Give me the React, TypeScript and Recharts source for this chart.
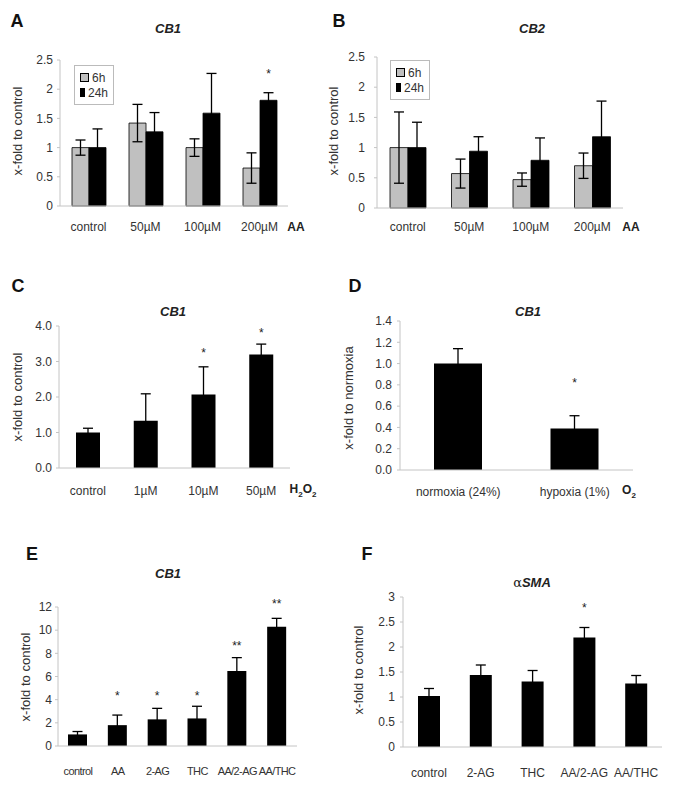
import { BarChart, Bar, XAxis, YAxis, ErrorBar, LabelList, Legend } from "recharts";
import type { CSSProperties, ReactNode } from "react";

const FONT = '"Liberation Sans", Arial, Helvetica, sans-serif';

const seriesNames = ["6h", "24h"];

// A: CB1, AA doses, 6h / 24h
const aaDoses = ["control", "50µM", "100µM", "200µM"];
const cb1AA6h = [1.0, 1.42, 1.0, 0.65];
const cb1AA6hErr = [0.13, 0.32, 0.15, 0.26];
const cb1AA24h = [1.0, 1.27, 1.59, 1.81];
const cb1AA24hErr = [0.32, 0.33, 0.68, 0.13];
const cb1AA24hStar = ["", "", "", "*"];
const cb1AA24hStarAt = [0, 0, 0, 2.31];

// B: CB2, AA doses, 6h / 24h
const cb2AA6h = [1.0, 0.57, 0.47, 0.7];
const cb2AA6hErr = [0.59, 0.24, 0.11, 0.21];
const cb2AA24h = [1.0, 0.94, 0.79, 1.18];
const cb2AA24hErr = [0.42, 0.24, 0.37, 0.59];

// C: CB1, H2O2 doses
const h2o2Doses = ["control", "1µM", "10µM", "50µM"];
const cb1H2O2 = [1.0, 1.33, 2.07, 3.2];
const cb1H2O2Err = [0.12, 0.76, 0.78, 0.29];
const cb1H2O2Star = ["", "", "*", "*"];
const cb1H2O2StarAt = [0, 0, 3.32, 3.89];

// D: CB1, oxygen
const o2Conditions = ["normoxia (24%)", "hypoxia (1%)"];
const cb1O2 = [1.0, 0.39];
const cb1O2Err = [0.14, 0.12];
const cb1O2Star = ["", "*"];
const cb1O2StarAt = [0, 0.85];

// E: CB1, treatments
const eTreatments = ["control", "AA", "2-AG", "THC", "AA/2-AG", "AA/THC"];
const cb1Treat = [1.0, 1.8, 2.3, 2.38, 6.48, 10.3];
const cb1TreatErr = [0.25, 0.87, 0.95, 1.05, 1.15, 0.72];
const cb1TreatStar = ["", "*", "*", "*", "**", "**"];
const cb1TreatStarAt = [0, 4.55, 4.55, 4.55, 8.9, 12.55];

// F: alphaSMA, treatments
const fTreatments = ["control", "2-AG", "THC", "AA/2-AG", "AA/THC"];
const smaTreat = [1.02, 1.44, 1.31, 2.19, 1.27];
const smaTreatErr = [0.15, 0.2, 0.22, 0.2, 0.16];
const smaTreatStar = ["", "", "", "*", ""];
const smaTreatStarAt = [0, 0, 0, 2.85, 0];

const ticksAB = [0, 0.5, 1, 1.5, 2, 2.5];
const ticksC = [0, 1, 2, 3, 4];
const ticksD = [0, 0.2, 0.4, 0.6, 0.8, 1.0, 1.2, 1.4];
const ticksE = [0, 2, 4, 6, 8, 10, 12];
const ticksF = [0, 0.5, 1, 1.5, 2, 2.5, 3];

const rowsA = aaDoses.map((name, i) => ({
  name,
  h6: cb1AA6h[i],
  h6Err: cb1AA6hErr[i],
  h24: cb1AA24h[i],
  h24Err: cb1AA24hErr[i],
  star: cb1AA24hStar[i],
}));
const rowsB = aaDoses.map((name, i) => ({
  name,
  h6: cb2AA6h[i],
  h6Err: cb2AA6hErr[i],
  h24: cb2AA24h[i],
  h24Err: cb2AA24hErr[i],
}));
const single = (names: string[], v: number[], e: number[], s: string[]) =>
  names.map((name, i) => ({ name, value: v[i], err: e[i], star: s[i] }));
const rowsC = single(h2o2Doses, cb1H2O2, cb1H2O2Err, cb1H2O2Star);
const rowsD = single(o2Conditions, cb1O2, cb1O2Err, cb1O2Star);
const rowsE = single(eTreatments, cb1Treat, cb1TreatErr, cb1TreatStar);
const rowsF = single(fTreatments, smaTreat, smaTreatErr, smaTreatStar);

const AXIS = "#c4c4c4";
const TXT = "#333";
const Y_W = 30;
const X_H = 40;

type Box = { left: number; top: number; width: number; height: number };
type Plot = { left: number; right: number; top: number; bottom: number };

function frame(box: Box, plot: Plot) {
  return {
    left: plot.left - box.left - Y_W,
    right: box.left + box.width - plot.right,
    top: plot.top - box.top,
    bottom: box.top + box.height - plot.bottom - X_H,
  };
}

// star marks: height (px per unit from bar geometry)
function starContent(values: number[], starAt: number[]) {
  // eslint-disable-next-line @typescript-eslint/no-explicit-any
  return (props: any) => {
    const { index, value } = props;
    if (!value || index == null) return null;
    const vb = props.viewBox ?? props;
    const { x, y, width, height } = vb;
    const perUnit = height / values[index];
    const cy = y + height - starAt[index] * perUnit;
    return (
      <text x={x + width / 2} y={cy + 7} textAnchor="middle" fontSize={12} fill="#222" fontFamily={FONT}>
        {value}
      </text>
    );
  };
}

// eslint-disable-next-line @typescript-eslint/no-explicit-any
function SeriesLegend({ payload }: any) {
  const items = [...(payload ?? [])].sort(
    (a: { value: string }, b: { value: string }) => seriesNames.indexOf(a.value) - seriesNames.indexOf(b.value),
  );
  return (
    <div
      style={{
        border: "1px solid #bbb",
        background: "#fff",
        padding: "4px 5px",
        fontSize: 12,
        fontFamily: FONT,
        color: TXT,
        boxSizing: "border-box",
        width: 40,
      }}
    >
      {items.map((p: { value: string; color: string }) => (
        <div key={p.value} style={{ display: "flex", alignItems: "center", height: 15 }}>
          <span
            style={{
              display: "inline-block",
              width: 7,
              height: 7,
              background: p.color,
              border: "1px solid #000",
              marginRight: 3,
            }}
          />
          {p.value}
        </div>
      ))}
    </div>
  );
}

const xAxisProps = (margin: number, font = 12, spacing = 0) => ({
  dataKey: "name",
  height: X_H,
  axisLine: { stroke: AXIS },
  tickLine: false,
  tickSize: 0,
  tickMargin: margin,
  interval: 0 as const,
  tick: { fontSize: font, fill: TXT, fontFamily: FONT, letterSpacing: spacing, style: { letterSpacing: spacing } },
});

const yAxisProps = (ticks: number[], margin: number, fmt?: (v: number) => string) => ({
  width: Y_W,
  domain: [ticks[0], ticks[ticks.length - 1]] as [number, number],
  ticks,
  interval: 0 as const,
  axisLine: { stroke: AXIS },
  tickLine: { stroke: AXIS },
  tickSize: 3,
  tickMargin: margin,
  tickFormatter: fmt,
  tick: { fontSize: 12, fill: TXT, fontFamily: FONT },
});

const fixed1 = (v: number) => v.toFixed(1);

function Txt({ x, y, children, style }: { x: number; y: number; children: ReactNode; style?: CSSProperties }) {
  return (
    <div
      style={{
        position: "absolute",
        left: x,
        top: y,
        transform: "translate(-50%, -50%)",
        whiteSpace: "nowrap",
        lineHeight: 1,
        fontFamily: FONT,
        ...style,
      }}
    >
      {children}
    </div>
  );
}

const letter: CSSProperties = { fontSize: 18, fontWeight: 700, color: "#111" };
const title: CSSProperties = { fontSize: 13, fontWeight: 700, fontStyle: "italic", color: "#222" };
const unit: CSSProperties = { fontSize: 12, fontWeight: 700, color: "#222" };

function YLabel({ x, y, text }: { x: number; y: number; text: string }) {
  return (
    <Txt x={x} y={y} style={{ fontSize: 13, color: TXT, transform: "translate(-50%, -50%) rotate(-90deg)" }}>
      {text}
    </Txt>
  );
}

const boxA = { left: 0, top: 0, width: 340, height: 250 };
const boxB = { left: 340, top: 0, width: 340, height: 250 };
const boxC = { left: 0, top: 250, width: 340, height: 260 };
const boxD = { left: 340, top: 250, width: 340, height: 260 };
const boxE = { left: 0, top: 510, width: 340, height: 279 };
const boxF = { left: 340, top: 510, width: 340, height: 279 };

const at = (b: Box): CSSProperties => ({ position: "absolute", left: b.left, top: b.top });

export default function App() {
  return (
    <div style={{ position: "absolute", left: 0, top: 0, width: 680, height: 789, background: "#fff" }}>
      {/* A */}
      <div style={at(boxA)}>
        <BarChart
          width={boxA.width}
          height={boxA.height}
          data={rowsA}
          margin={frame(boxA, { left: 60, right: 288, top: 60, bottom: 206 })}
          barGap={0}
          barSize={17}
        >
          <XAxis {...xAxisProps(16)} />
          <YAxis {...yAxisProps(ticksAB, 4)} />
          <Legend
            content={<SeriesLegend />}
            layout="vertical"
            align="center"
            verticalAlign="middle"
            wrapperStyle={{ left: 74, top: 65, width: 40, height: 41 }}
          />
          <Bar dataKey="h6" name={seriesNames[0]} fill="#c0c0c0" stroke="#000" strokeWidth={0.8} isAnimationActive={false}>
            <ErrorBar dataKey="h6Err" width={5} stroke="#000" strokeWidth={1.3} />
          </Bar>
          <Bar dataKey="h24" name={seriesNames[1]} fill="#000" stroke="#000" strokeWidth={0.8} isAnimationActive={false}>
            <ErrorBar dataKey="h24Err" width={5} stroke="#000" strokeWidth={1.3} />
            <LabelList dataKey="star" content={starContent(cb1AA24h, cb1AA24hStarAt)} />
          </Bar>
        </BarChart>
      </div>

      {/* B */}
      <div style={at(boxB)}>
        <BarChart
          width={boxB.width}
          height={boxB.height}
          data={rowsB}
          margin={frame(boxB, { left: 377, right: 623, top: 57, bottom: 208 })}
          barGap={0}
          barSize={18}
        >
          <XAxis {...xAxisProps(14)} />
          <YAxis {...yAxisProps(ticksAB, 9)} />
          <Legend
            content={<SeriesLegend />}
            layout="vertical"
            align="center"
            verticalAlign="middle"
            wrapperStyle={{ left: 50, top: 60, width: 40, height: 42 }}
          />
          <Bar dataKey="h6" name={seriesNames[0]} fill="#c0c0c0" stroke="#000" strokeWidth={0.8} isAnimationActive={false}>
            <ErrorBar dataKey="h6Err" width={5} stroke="#000" strokeWidth={1.3} />
          </Bar>
          <Bar dataKey="h24" name={seriesNames[1]} fill="#000" stroke="#000" strokeWidth={0.8} isAnimationActive={false}>
            <ErrorBar dataKey="h24Err" width={5} stroke="#000" strokeWidth={1.3} />
          </Bar>
        </BarChart>
      </div>

      {/* C */}
      <div style={at(boxC)}>
        <BarChart
          width={boxC.width}
          height={boxC.height}
          data={rowsC}
          margin={frame(boxC, { left: 59, right: 290, top: 326, bottom: 468 })}
          barSize={24}
        >
          <XAxis {...xAxisProps(18)} />
          <YAxis {...yAxisProps(ticksC, 4, fixed1)} />
          <Bar dataKey="value" fill="#000" isAnimationActive={false}>
            <ErrorBar dataKey="err" width={5} stroke="#000" strokeWidth={1.3} />
            <LabelList dataKey="star" content={starContent(cb1H2O2, cb1H2O2StarAt)} />
          </Bar>
        </BarChart>
      </div>

      {/* D */}
      <div style={at(boxD)}>
        <BarChart
          width={boxD.width}
          height={boxD.height}
          data={rowsD}
          margin={frame(boxD, { left: 400, right: 633, top: 321, bottom: 470 })}
          barSize={48}
        >
          <XAxis {...xAxisProps(17)} />
          <YAxis {...yAxisProps(ticksD, 5, fixed1)} />
          <Bar dataKey="value" fill="#000" isAnimationActive={false}>
            <ErrorBar dataKey="err" width={5} stroke="#000" strokeWidth={1.3} />
            <LabelList dataKey="star" content={starContent(cb1O2, cb1O2StarAt)} />
          </Bar>
        </BarChart>
      </div>

      {/* E */}
      <div style={at(boxE)}>
        <BarChart
          width={boxE.width}
          height={boxE.height}
          data={rowsE}
          margin={frame(boxE, { left: 58, right: 297, top: 607, bottom: 746 })}
          barSize={19}
        >
          <XAxis {...xAxisProps(21, 11, -0.6)} />
          <YAxis {...yAxisProps(ticksE, 3)} />
          <Bar dataKey="value" fill="#000" isAnimationActive={false}>
            <ErrorBar dataKey="err" width={5} stroke="#000" strokeWidth={1.3} />
            <LabelList dataKey="star" content={starContent(cb1Treat, cb1TreatStarAt)} />
          </Bar>
        </BarChart>
      </div>

      {/* F */}
      <div style={at(boxF)}>
        <BarChart
          width={boxF.width}
          height={boxF.height}
          data={rowsF}
          margin={frame(boxF, { left: 403, right: 662, top: 597, bottom: 747 })}
          barSize={22}
        >
          <XAxis {...xAxisProps(21)} />
          <YAxis {...yAxisProps(ticksF, 5)} />
          <Bar dataKey="value" fill="#000" isAnimationActive={false}>
            <ErrorBar dataKey="err" width={5} stroke="#000" strokeWidth={1.3} />
            <LabelList dataKey="star" content={starContent(smaTreat, smaTreatStarAt)} />
          </Bar>
        </BarChart>
      </div>

      {/* panel letters */}
      <Txt x={17} y={21} style={letter}>A</Txt>
      <Txt x={339} y={21} style={letter}>B</Txt>
      <Txt x={18} y={286} style={letter}>C</Txt>
      <Txt x={355} y={286} style={letter}>D</Txt>
      <Txt x={32} y={554} style={letter}>E</Txt>
      <Txt x={367} y={554} style={letter}>F</Txt>

      {/* titles */}
      <Txt x={168} y={28} style={title}>CB1</Txt>
      <Txt x={532} y={28} style={title}>CB2</Txt>
      <Txt x={173} y={311} style={title}>CB1</Txt>
      <Txt x={528} y={311} style={title}>CB1</Txt>
      <Txt x={168} y={573} style={title}>CB1</Txt>
      <Txt x={532} y={582} style={title}>
        <span style={{ fontStyle: "normal", fontWeight: 400, fontFamily: '"DejaVu Serif", serif' }}>α</span>SMA
      </Txt>

      {/* axis titles */}
      <YLabel x={17} y={131} text="x-fold to control" />
      <YLabel x={333} y={131} text="x-fold to control" />
      <YLabel x={17} y={397} text="x-fold to control" />
      <YLabel x={348} y={398} text="x-fold to normoxia" />
      <YLabel x={25} y={677} text="x-fold to control" />
      <YLabel x={358} y={670} text="x-fold to control" />

      {/* treatment units */}
      <Txt x={296} y={227} style={unit}>AA</Txt>
      <Txt x={631} y={227} style={unit}>AA</Txt>
      <Txt x={303} y={491} style={unit}>
        H<sub style={{ fontSize: 8 }}>2</sub>O<sub style={{ fontSize: 8 }}>2</sub>
      </Txt>
      <Txt x={629} y={492} style={unit}>
        O<sub style={{ fontSize: 8 }}>2</sub>
      </Txt>
    </div>
  );
}
